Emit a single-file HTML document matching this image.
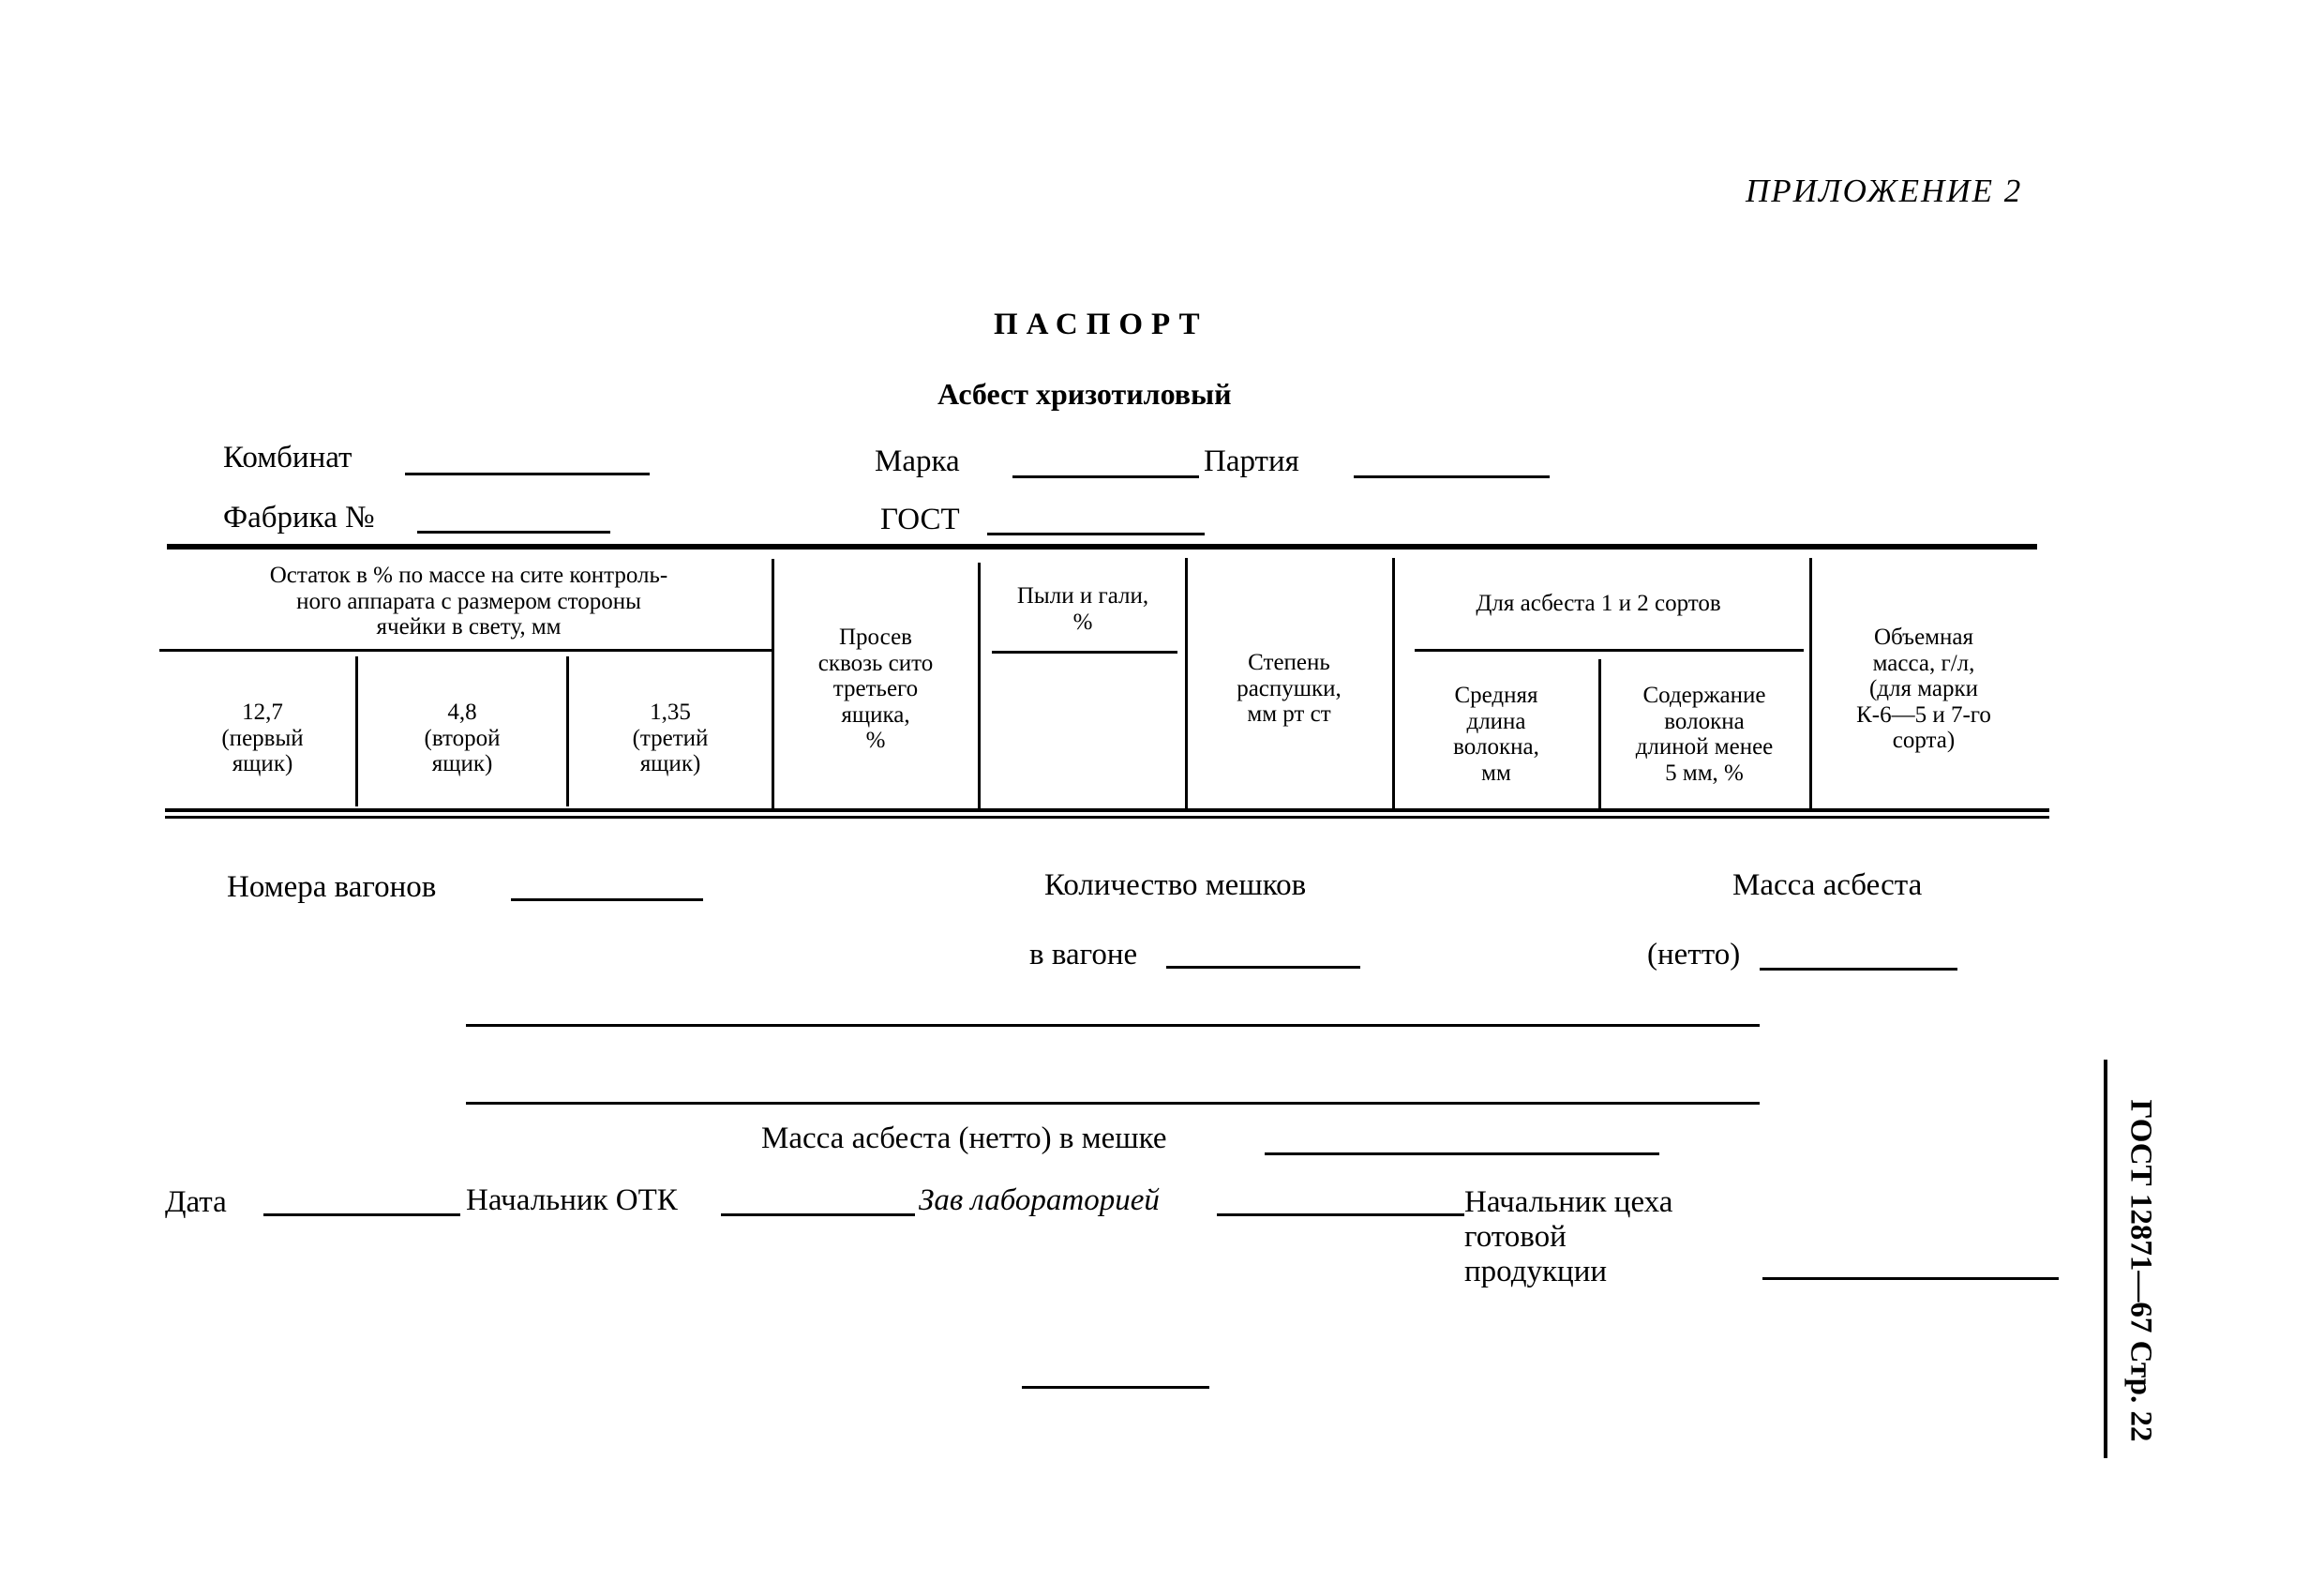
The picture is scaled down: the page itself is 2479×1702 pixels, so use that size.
<!DOCTYPE html>
<html><head><meta charset="utf-8"><style>
html,body{margin:0;padding:0;background:#fff}
body{width:2479px;height:1702px;position:relative;overflow:hidden;font-family:"Liberation Serif","Noto Serif CJK SC",serif;color:#000}
.t{position:absolute;white-space:nowrap;font-size:33px;line-height:1}
.c{position:absolute;text-align:center;white-space:nowrap;font-size:25px;line-height:27.5px;transform:translateX(-50%)}
.h{position:absolute;background:#000;height:3px}
.v{position:absolute;background:#000;width:3px}
</style></head><body>
<div class="t" style="left:1862px;top:186px;font-style:italic;font-size:35px;letter-spacing:2px">ПРИЛОЖЕНИЕ 2</div>
<div class="t" style="left:1060px;top:330px;font-weight:bold;font-size:33px;letter-spacing:9px">ПАСПОРТ</div>
<div class="t" style="left:1000px;top:404px;font-weight:bold;font-size:32px">Асбест хризотиловый</div>

<div class="t" style="left:238px;top:472px">Комбинат</div><div class="h" style="left:432px;top:504px;width:261px"></div>
<div class="t" style="left:933px;top:476px">Марка</div><div class="h" style="left:1080px;top:507px;width:199px"></div>
<div class="t" style="left:1284px;top:476px">Партия</div><div class="h" style="left:1444px;top:507px;width:209px"></div>
<div class="t" style="left:238px;top:536px">Фабрика №</div><div class="h" style="left:445px;top:566px;width:206px"></div>
<div class="t" style="left:939px;top:538px">ГОСТ</div><div class="h" style="left:1053px;top:568px;width:232px"></div>

<!-- table -->
<div class="h" style="left:178px;top:580px;width:1995px;height:6px"></div>
<div class="h" style="left:170px;top:692px;width:655px"></div>
<div class="h" style="left:1058px;top:694px;width:198px"></div>
<div class="h" style="left:1509px;top:692px;width:415px"></div>
<div class="h" style="left:176px;top:862px;width:2010px;height:4px"></div>
<div class="h" style="left:176px;top:870px;width:2010px;height:3px"></div>
<div class="v" style="left:379px;top:700px;height:160px"></div>
<div class="v" style="left:604px;top:700px;height:160px"></div>
<div class="v" style="left:823px;top:596px;height:266px"></div>
<div class="v" style="left:1043px;top:600px;height:262px"></div>
<div class="v" style="left:1264px;top:595px;height:270px"></div>
<div class="v" style="left:1485px;top:595px;height:267px"></div>
<div class="v" style="left:1705px;top:703px;height:159px"></div>
<div class="v" style="left:1930px;top:595px;height:267px"></div>

<div class="c" style="left:500px;top:600px">Остаток в % по массе на сите контроль-<br>ного аппарата с размером стороны<br>ячейки в свету, мм</div>
<div class="c" style="left:280px;top:746px">12,7<br>(первый<br>ящик)</div>
<div class="c" style="left:493px;top:746px">4,8<br>(второй<br>ящик)</div>
<div class="c" style="left:715px;top:746px">1,35<br>(третий<br>ящик)</div>
<div class="c" style="left:934px;top:666px">Просев<br>сквозь сито<br>третьего<br>ящика,<br>%</div>
<div class="c" style="left:1155px;top:622px">Пыли и гали,<br>%</div>
<div class="c" style="left:1375px;top:693px">Степень<br>распушки,<br>мм рт ст</div>
<div class="c" style="left:1705px;top:630px">Для асбеста 1 и 2 сортов</div>
<div class="c" style="left:1596px;top:728px">Средняя<br>длина<br>волокна,<br>мм</div>
<div class="c" style="left:1818px;top:728px">Содержание<br>волокна<br>длиной менее<br>5 мм, %</div>
<div class="c" style="left:2052px;top:666px">Объемная<br>масса, г/л,<br>(для марки<br>К-6—5 и 7-го<br>сорта)</div>

<div class="t" style="left:242px;top:930px">Номера вагонов</div><div class="h" style="left:545px;top:958px;width:205px"></div>
<div class="t" style="left:1114px;top:928px">Количество мешков</div>
<div class="t" style="left:1098px;top:1002px">в вагоне</div><div class="h" style="left:1244px;top:1030px;width:207px"></div>
<div class="t" style="left:1848px;top:928px">Масса асбеста</div>
<div class="t" style="left:1757px;top:1002px">(нетто)</div><div class="h" style="left:1877px;top:1032px;width:211px"></div>
<div class="h" style="left:497px;top:1092px;width:1380px"></div>
<div class="h" style="left:497px;top:1175px;width:1380px"></div>
<div class="t" style="left:812px;top:1198px">Масса асбеста (нетто) в мешке</div><div class="h" style="left:1349px;top:1229px;width:421px"></div>
<div class="t" style="left:176px;top:1266px">Дата</div><div class="h" style="left:281px;top:1294px;width:210px"></div>
<div class="t" style="left:497px;top:1264px">Начальник ОТК</div><div class="h" style="left:769px;top:1294px;width:207px"></div>
<div class="t" style="left:980px;top:1264px;font-style:italic">Зав лабораторией</div><div class="h" style="left:1298px;top:1294px;width:264px"></div>
<div class="t" style="left:1562px;top:1264px;line-height:37px">Начальник цеха<br>готовой<br>продукции</div>
<div class="h" style="left:1880px;top:1362px;width:316px"></div>
<div class="h" style="left:1090px;top:1478px;width:200px"></div>

<div class="v" style="left:2244px;top:1130px;height:425px;width:4px"></div>
<div class="t" style="left:2283px;top:1355px;font-weight:bold;font-size:33px;transform:translate(-50%,-50%) rotate(90deg)">ГОСТ 12871—67 Стр. 22</div>
</body></html>
